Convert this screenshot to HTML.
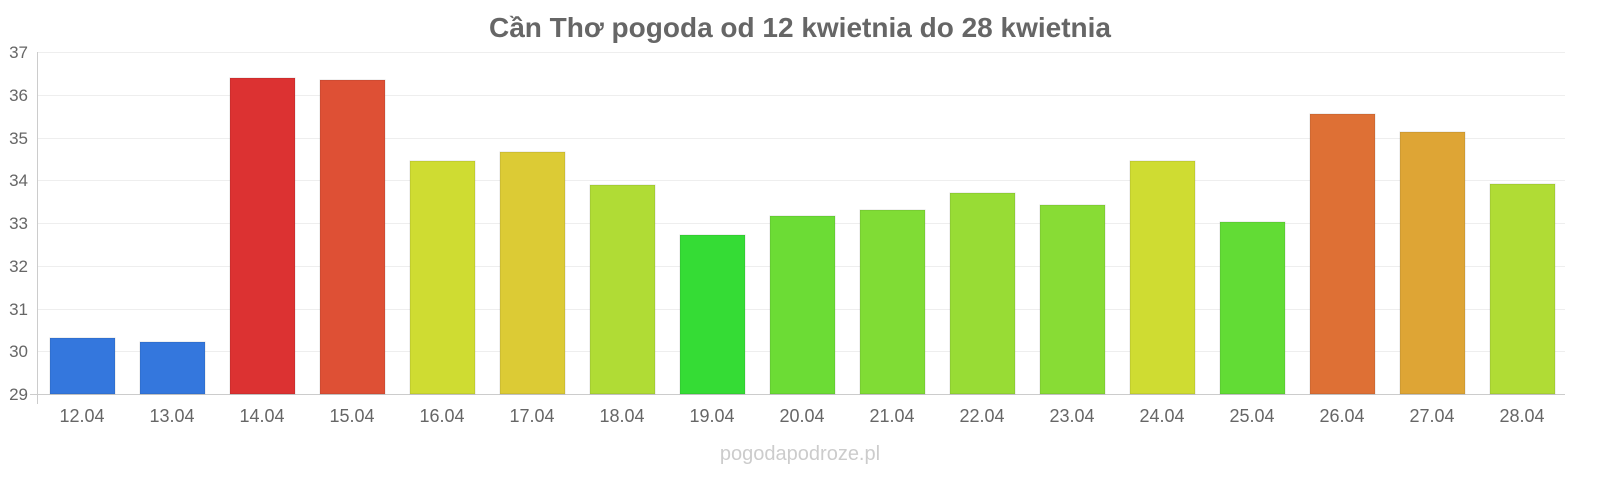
<!DOCTYPE html>
<html><head><meta charset="utf-8"><style>
body{margin:0;background:#fff;width:1600px;height:480px;overflow:hidden}
svg text{font-family:"Liberation Sans","Noto Sans CJK SC",sans-serif}
</style></head><body>
<svg width="1600" height="480" xmlns="http://www.w3.org/2000/svg">
<text x="800" y="37" text-anchor="middle" font-size="28" font-weight="bold" fill="#666">Cần Thơ pogoda od 12 kwietnia do 28 kwietnia</text>
<g stroke="#eee" stroke-width="1">
<line x1="37" x2="1565" y1="52.5" y2="52.5"/><line x1="37" x2="1565" y1="95.5" y2="95.5"/>
<line x1="37" x2="1565" y1="138.5" y2="138.5"/><line x1="37" x2="1565" y1="180.5" y2="180.5"/>
<line x1="37" x2="1565" y1="223.5" y2="223.5"/><line x1="37" x2="1565" y1="266.5" y2="266.5"/>
<line x1="37" x2="1565" y1="309.5" y2="309.5"/><line x1="37" x2="1565" y1="351.5" y2="351.5"/>
</g>
<line x1="37.5" x2="37.5" y1="52" y2="404" stroke="#ccc"/>
<line x1="30" x2="1565" y1="394.5" y2="394.5" stroke="#ccc"/>
<g font-size="17" fill="#666" text-anchor="end">
<text x="28" y="58">37</text><text x="28" y="101">36</text><text x="28" y="144">35</text>
<text x="28" y="186">34</text><text x="28" y="229">33</text><text x="28" y="272">32</text>
<text x="28" y="315">31</text><text x="28" y="357">30</text><text x="28" y="400">29</text>
</g>
<g stroke-width="1" stroke="rgba(0,0,0,0.12)">
<rect x="50" y="338" width="65" height="56" fill="#3477dd"/>
<rect x="140" y="342" width="65" height="52" fill="#3477dd"/>
<rect x="230" y="78" width="65" height="316" fill="#dc3232"/>
<rect x="320" y="80" width="65" height="314" fill="#de5035"/>
<rect x="410" y="161" width="65" height="233" fill="#cfdc32"/>
<rect x="500" y="152" width="65" height="242" fill="#dccb35"/>
<rect x="590" y="185" width="65" height="209" fill="#b0dc35"/>
<rect x="680" y="235" width="65" height="159" fill="#35dc35"/>
<rect x="770" y="216" width="65" height="178" fill="#6cdc35"/>
<rect x="860" y="210" width="65" height="184" fill="#80dc35"/>
<rect x="950" y="193" width="65" height="201" fill="#98dc35"/>
<rect x="1040" y="205" width="65" height="189" fill="#88dc35"/>
<rect x="1130" y="161" width="65" height="233" fill="#cfdc32"/>
<rect x="1220" y="222" width="65" height="172" fill="#62dc35"/>
<rect x="1310" y="114" width="65" height="280" fill="#de7035"/>
<rect x="1400" y="132" width="65" height="262" fill="#dea535"/>
<rect x="1490" y="184" width="65" height="210" fill="#b0dc35"/>
</g>
<g font-size="18" fill="#666" text-anchor="middle">
<text x="82" y="422">12.04</text><text x="172" y="422">13.04</text><text x="262" y="422">14.04</text>
<text x="352" y="422">15.04</text><text x="442" y="422">16.04</text><text x="532" y="422">17.04</text>
<text x="622" y="422">18.04</text><text x="712" y="422">19.04</text><text x="802" y="422">20.04</text>
<text x="892" y="422">21.04</text><text x="982" y="422">22.04</text><text x="1072" y="422">23.04</text>
<text x="1162" y="422">24.04</text><text x="1252" y="422">25.04</text><text x="1342" y="422">26.04</text>
<text x="1432" y="422">27.04</text><text x="1522" y="422">28.04</text>
</g>
<text x="800" y="460" text-anchor="middle" font-size="20" fill="#ccc">pogodapodroze.pl</text>
</svg>
</body></html>
